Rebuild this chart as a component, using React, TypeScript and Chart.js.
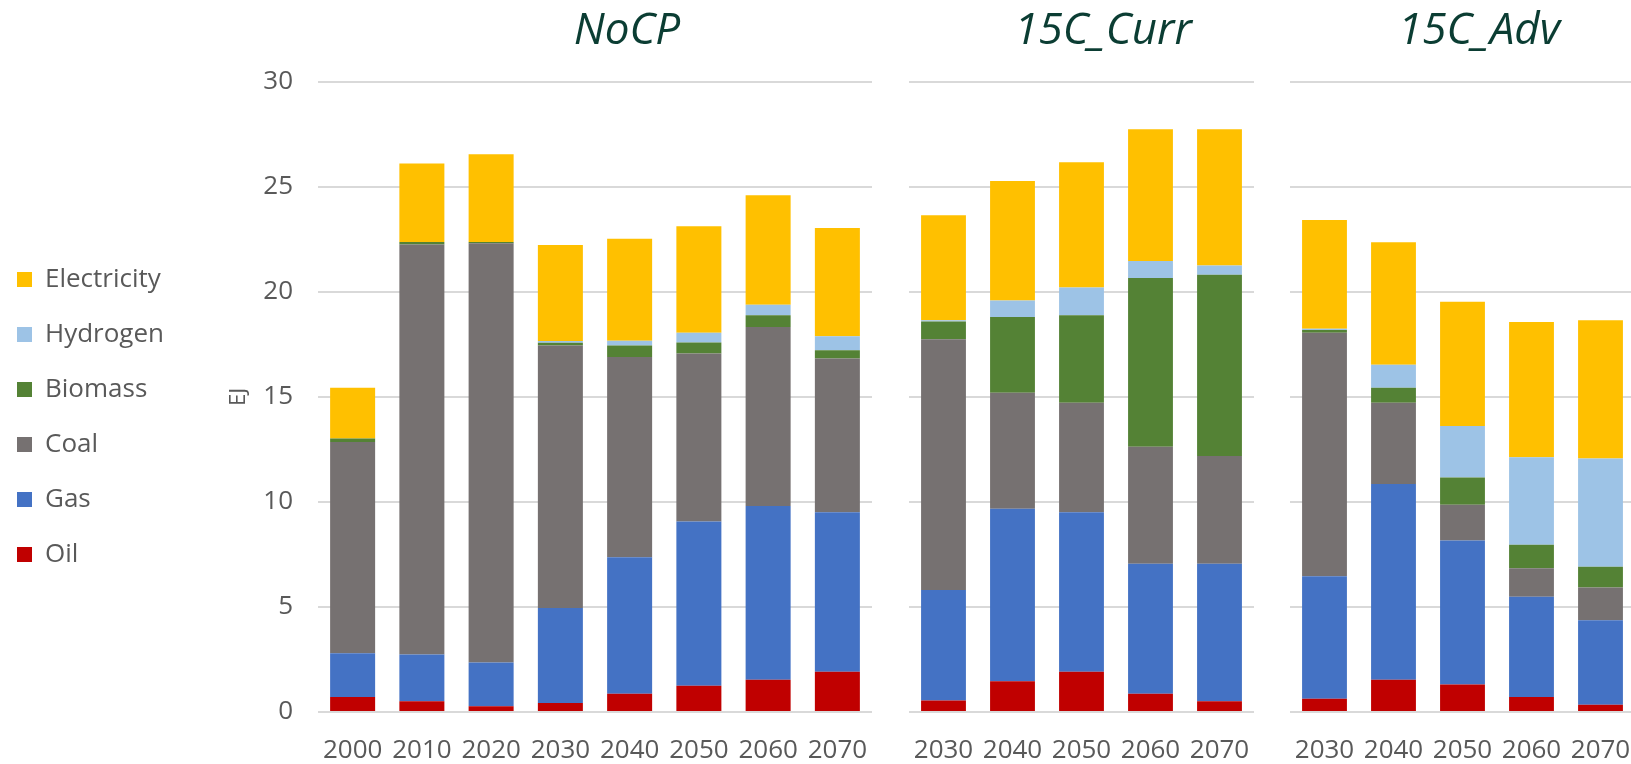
import React, { useEffect, useRef } from 'react';
import { Chart, registerables } from 'chart.js';

Chart.register(...registerables);

// ---- Data ----
const seriesNames = ['Oil', 'Gas', 'Coal', 'Biomass', 'Hydrogen', 'Electricity'];
const seriesColors = ['#C00000', '#4472C4', '#767171', '#548235', '#9DC3E6', '#FFC000'];

const yTicks = [0, 5, 10, 15, 20, 25, 30];

const nocpYears = ['2000', '2010', '2020', '2030', '2040', '2050', '2060', '2070'];
const nocpOil = [0.71, 0.51, 0.27, 0.43, 0.87, 1.25, 1.53, 1.91];
const nocpGas = [2.09, 2.23, 2.09, 4.52, 6.49, 7.82, 8.28, 7.6];
const nocpCoal = [10.05, 19.51, 19.95, 12.5, 9.54, 7.99, 8.51, 7.31];
const nocpBiomass = [0.17, 0.12, 0.06, 0.13, 0.55, 0.53, 0.56, 0.4];
const nocpHydrogen = [0, 0, 0, 0.08, 0.22, 0.46, 0.5, 0.66];
const nocpElectricity = [2.41, 3.74, 4.18, 4.57, 4.86, 5.07, 5.22, 5.16];

const currYears = ['2030', '2040', '2050', '2060', '2070'];
const currOil = [0.55, 1.46, 1.91, 0.87, 0.51];
const currGas = [5.26, 8.21, 7.6, 6.19, 6.55];
const currCoal = [11.93, 5.52, 5.21, 5.57, 5.12];
const currBiomass = [0.85, 3.61, 4.16, 8.03, 8.63];
const currHydrogen = [0.05, 0.79, 1.33, 0.81, 0.44];
const currElectricity = [5.0, 5.68, 5.96, 6.27, 6.49];

const advYears = ['2030', '2040', '2050', '2060', '2070'];
const advOil = [0.63, 1.53, 1.31, 0.71, 0.35];
const advGas = [5.83, 9.32, 6.85, 4.78, 4.02];
const advCoal = [11.59, 3.87, 1.7, 1.35, 1.55];
const advBiomass = [0.13, 0.71, 1.3, 1.12, 0.99];
const advHydrogen = [0.06, 1.1, 2.45, 4.16, 5.15];
const advElectricity = [5.18, 5.83, 5.92, 6.44, 6.58];

const panelTitles = ['NoCP', '15C_Curr', '15C_Adv'];

// ---- Styling ----
const TEXT = '#595959';
const GRID = '#D9D9D9';
const FONT = "'Open Sans', 'Liberation Sans', sans-serif";
const LEGEND_PAD = 29;

function estimateLegendWidth(): number {
  const ctx = document.createElement('canvas').getContext('2d');
  if (!ctx) return 183;
  ctx.font = `26px ${FONT}`;
  const w = Math.max(...seriesNames.map((n) => ctx.measureText(n).width));
  return LEGEND_PAD + 15 + 13 + w + 10;
}

type PanelProps = {
  labels: string[];
  values: number[][];
  withAxis: boolean;
  left: number;
  width: number;
};

function Panel({ labels, values, withAxis, left, width }: PanelProps) {
  const ref = useRef<HTMLCanvasElement | null>(null);
  useEffect(() => {
    if (!ref.current) return;
    const estL = estimateLegendWidth();
    const datasets = seriesNames.map((name, i) => ({
      label: name,
      data: values[i],
      backgroundColor: seriesColors[i],
      borderWidth: 0,
      barPercentage: 0.65,
      categoryPercentage: 1.0,
    }));
    const chart = new Chart(ref.current, {
      type: 'bar',
      data: { labels, datasets },
      options: {
        responsive: false,
        animation: false,
        layout: { padding: { top: 81.7, bottom: 0, left: 0, right: 0 } },
        plugins: {
          title: { display: false },
          tooltip: { enabled: false },
          legend: withAxis
            ? {
                display: true,
                position: 'left',
                align: 'start',
                reverse: true,
                title: {
                  display: true,
                  text: ' ',
                  font: { family: FONT, size: 10 },
                  padding: { top: 143.8, bottom: 0 },
                },
                labels: {
                  boxWidth: 15,
                  boxHeight: 15,
                  padding: LEGEND_PAD,
                  color: TEXT,
                  font: { family: FONT, size: 26 },
                },
              }
            : { display: false },
        },
        scales: {
          x: {
            stacked: true,
            grid: { display: false, drawTicks: false },
            border: { display: false },
            ticks: {
              color: TEXT,
              font: { family: FONT, size: 26 },
              padding: 23,
              autoSkip: false,
              maxRotation: 0,
              minRotation: 0,
            },
            afterFit: (s: any) => {
              s.height = 52;
              s.paddingLeft = 0;
              s.paddingRight = 0;
            },
          },
          y: {
            stacked: true,
            min: 0,
            max: 30,
            grid: { color: GRID, lineWidth: 2, drawTicks: false },
            border: { display: false },
            afterBuildTicks: (s: any) => {
              s.ticks = yTicks.map((v) => ({ value: v }));
            },
            ticks: {
              display: withAxis,
              color: TEXT,
              font: { family: FONT, size: 26 },
              padding: 25,
            },
            title: {
              display: withAxis,
              text: 'EJ',
              color: TEXT,
              font: { family: FONT, size: 22 },
              padding: { top: Math.max(0, 237.5 - estL), bottom: 0 },
            },
            afterFit: (s: any) => {
              if (withAxis) {
                const lw = s.chart.legend && s.chart.legend.width ? s.chart.legend.width : estL;
                s.width = 330 - lw;
              } else {
                s.width = 0;
              }
              s.paddingTop = 0;
              s.paddingBottom = 0;
            },
          },
        },
      },
    } as any);
    return () => chart.destroy();
  }, []);
  return (
    <canvas
      ref={ref}
      width={width}
      height={764}
      style={{ position: 'absolute', left, top: 0, width, height: 764 }}
    />
  );
}

function Title({ text, center }: { text: string; center: number }) {
  return (
    <div
      style={{
        position: 'absolute',
        left: center - 150,
        width: 300,
        top: 5,
        textAlign: 'center',
        fontFamily: FONT,
        fontStyle: 'italic',
        fontSize: 44,
        lineHeight: '44px',
        color: '#0B3D33',
        whiteSpace: 'nowrap',
      }}
    >
      {text}
    </div>
  );
}

export default function App() {
  return (
    <div
      style={{
        position: 'fixed',
        left: 0,
        top: 0,
        width: 1631,
        height: 764,
        overflow: 'hidden',
        background: '#ffffff',
      }}
    >
      <Panel
        labels={nocpYears}
        values={[nocpOil, nocpGas, nocpCoal, nocpBiomass, nocpHydrogen, nocpElectricity]}
        withAxis={true}
        left={-12}
        width={884}
      />
      <Panel
        labels={currYears}
        values={[currOil, currGas, currCoal, currBiomass, currHydrogen, currElectricity]}
        withAxis={false}
        left={909}
        width={345}
      />
      <Panel
        labels={advYears}
        values={[advOil, advGas, advCoal, advBiomass, advHydrogen, advElectricity]}
        withAxis={false}
        left={1290}
        width={345}
      />
      <Title text={panelTitles[0]} center={627} />
      <Title text={panelTitles[1]} center={1103} />
      <Title text={panelTitles[2]} center={1479} />
    </div>
  );
}
